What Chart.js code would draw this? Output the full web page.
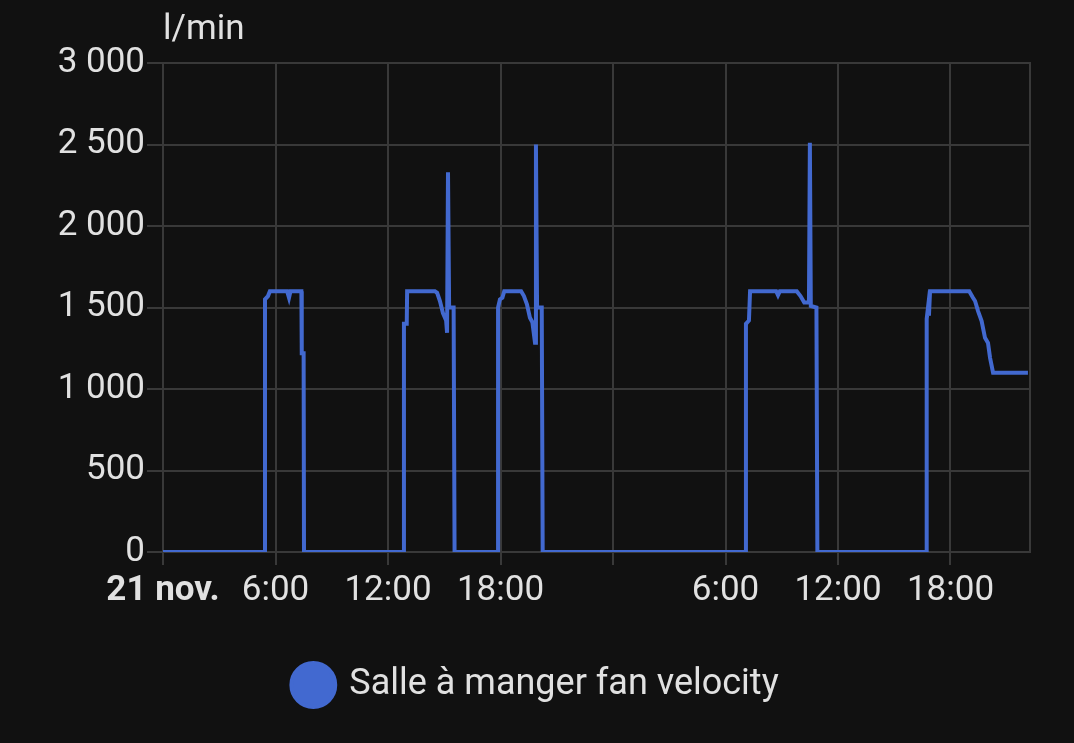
<!DOCTYPE html>
<html>
<head>
<meta charset="utf-8">
<script src="https://cdn.jsdelivr.net/npm/chart.js@4"></script>
<style>
    html, body { margin: 0; padding: 0; background: #111111; }
    #wrap { width: 1074px; height: 743px; position: relative; }
</style>
</head>
<body>
<div id="wrap"><canvas id="fanChart"></canvas></div>
<script>
// hours since 21 nov. 00:00
const hours = [
    0, 5.44, 5.44, 5.6, 5.7, 6.62, 6.72, 6.8, 7.38, 7.4, 7.5, 7.52,
    12.85, 12.85, 13.0, 13.02, 14.5, 14.62, 14.77, 14.93, 15.1, 15.15, 15.2, 15.26, 15.5, 15.55,
    17.87, 17.87, 17.97, 18.1, 18.2, 19.1, 19.25, 19.41, 19.57, 19.7, 19.84, 19.89, 19.95, 20.2, 20.25,
    31.09, 31.09, 31.25, 31.31, 32.7, 32.8, 32.9, 33.8, 34.0, 34.2, 34.45, 34.5, 34.55, 34.85, 34.9,
    40.73, 40.73, 40.8, 40.85, 40.91, 43.0, 43.2, 43.31, 43.47, 43.66, 43.84, 44.0, 44.11, 44.27, 46.13
];
// l/min
const flow = [
    0, 0, 1550, 1570, 1600, 1600, 1560, 1600, 1600, 1220, 1220, 0,
    0, 1400, 1400, 1600, 1600, 1590, 1540, 1466, 1420, 1345, 2330, 1500, 1500, 0,
    0, 1500, 1550, 1560, 1600, 1600, 1570, 1520, 1437, 1410, 1283, 2500, 1500, 1500, 0,
    0, 1400, 1420, 1600, 1600, 1575, 1600, 1600, 1570, 1530, 1530, 2510, 1510, 1500, 0,
    0, 1430, 1500, 1450, 1600, 1600, 1560, 1540, 1478, 1417, 1314, 1283, 1191, 1100, 1100
];
const tickLabels = ['21 nov.', '6:00', '12:00', '18:00', '', '6:00', '12:00', '18:00'];
const seriesName = 'Salle à manger fan velocity';
const unitLabel = 'l/min';

const gridColor = '#393939';
const textColor = '#e1e1e1';
const lineColor = '#4269d0';

// unit label above the y axis
const unitPlugin = {
    id: 'unitLabel',
    afterDraw(chart) {
        const ctx = chart.ctx;
        ctx.save();
        ctx.font = '35px Roboto';
        ctx.fillStyle = textColor;
        ctx.textAlign = 'left';
        ctx.textBaseline = 'alphabetic';
        ctx.fillText(unitLabel, chart.chartArea.left, 39);
        ctx.restore();
    }
};

const ctx = document.getElementById('fanChart').getContext('2d');
new Chart(ctx, {
    type: 'line',
    data: {
        datasets: [{
            label: seriesName,
            data: hours.map((h, i) => ({ x: h, y: flow[i] })),
            borderColor: lineColor,
            backgroundColor: lineColor,
            borderWidth: 4,
            pointRadius: 0,
            tension: 0,
            fill: false
        }]
    },
    options: {
        responsive: true,
        maintainAspectRatio: false,
        animation: false,
        layout: { padding: { top: 63, left: 0, right: 0, bottom: 30 } },
        scales: {
            x: {
                type: 'linear',
                min: 0,
                max: 46.24,
                grid: { color: gridColor, lineWidth: 2, tickLength: 13 },
                border: { color: gridColor, width: 2 },
                ticks: {
                    stepSize: 6,
                    includeBounds: false,
                    autoSkip: false,
                    maxRotation: 0,
                    padding: 5,
                    color: textColor,
                    font: (c) => ({
                        family: 'Roboto',
                        size: 35,
                        weight: c.tick && c.tick.value === 0 ? 'bold' : 'normal'
                    }),
                    callback: (v) => tickLabels[Math.round(v / 6)] ?? ''
                },
                afterFit: (scale) => { scale.height = 105; }
            },
            y: {
                min: 0,
                max: 3000,
                grid: { color: gridColor, lineWidth: 2, tickLength: 16 },
                border: { color: gridColor, width: 2 },
                ticks: {
                    stepSize: 500,
                    padding: 2,
                    color: textColor,
                    font: { family: 'Roboto', size: 35 },
                    callback: (v) => v.toLocaleString('fr-FR').replace(/\s/g, ' ')
                },
                afterFit: (scale) => { scale.width = 163; }
            },
            // right-hand frame line of the plot
            y2: {
                position: 'right',
                grid: { display: false },
                border: { display: true, color: gridColor, width: 2 },
                ticks: { display: false },
                afterFit: (scale) => { scale.width = 44; }
            }
        },
        plugins: {
            legend: {
                position: 'bottom',
                labels: {
                    color: textColor,
                    font: { family: 'Roboto', size: 36 },
                    usePointStyle: true,
                    pointStyle: 'circle',
                    boxWidth: 36,
                    boxHeight: 31,
                    padding: 10
                }
            },
            tooltip: { enabled: false }
        }
    },
    plugins: [unitPlugin]
});
</script>
</body>
</html>
